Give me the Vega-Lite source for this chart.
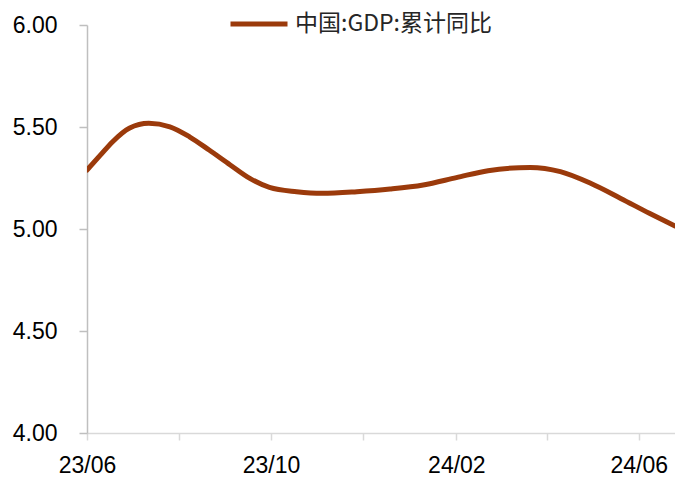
{
  "$schema": "https://vega.github.io/schema/vega-lite/v6.json",
  "width": 588,
  "height": 408,
  "autosize": {"type": "none"},
  "padding": {"left": 87, "top": 25, "right": 0, "bottom": 48},
  "background": "white",
  "config": {"view": {"stroke": null}, "font": "Liberation Sans"},
  "data": {"values": [
    {"date": "2023-06-01T00:00:00", "value": 5.289, "series": "中国:GDP:累计同比"},
    {"date": "2023-06-10T00:00:00", "value": 5.363, "series": "中国:GDP:累计同比"},
    {"date": "2023-06-18T00:00:00", "value": 5.428, "series": "中国:GDP:累计同比"},
    {"date": "2023-06-29T00:00:00", "value": 5.494, "series": "中国:GDP:累计同比"},
    {"date": "2023-07-12T00:00:00", "value": 5.518, "series": "中国:GDP:累计同比"},
    {"date": "2023-07-26T00:00:00", "value": 5.501, "series": "中国:GDP:累计同比"},
    {"date": "2023-08-08T00:00:00", "value": 5.452, "series": "中国:GDP:累计同比"},
    {"date": "2023-08-21T00:00:00", "value": 5.387, "series": "中国:GDP:累计同比"},
    {"date": "2023-09-04T00:00:00", "value": 5.314, "series": "中国:GDP:累计同比"},
    {"date": "2023-09-17T00:00:00", "value": 5.248, "series": "中国:GDP:累计同比"},
    {"date": "2023-09-30T00:00:00", "value": 5.204, "series": "中国:GDP:累计同比"},
    {"date": "2023-10-18T00:00:00", "value": 5.183, "series": "中国:GDP:累计同比"},
    {"date": "2023-11-04T00:00:00", "value": 5.175, "series": "中国:GDP:累计同比"},
    {"date": "2023-11-27T00:00:00", "value": 5.183, "series": "中国:GDP:累计同比"},
    {"date": "2023-12-19T00:00:00", "value": 5.196, "series": "中国:GDP:累计同比"},
    {"date": "2024-01-10T00:00:00", "value": 5.216, "series": "中国:GDP:累计同比"},
    {"date": "2024-02-01T00:00:00", "value": 5.252, "series": "中国:GDP:累计同比"},
    {"date": "2024-02-22T00:00:00", "value": 5.286, "series": "中国:GDP:累计同比"},
    {"date": "2024-03-21T00:00:00", "value": 5.302, "series": "中国:GDP:累计同比"},
    {"date": "2024-04-10T00:00:00", "value": 5.281, "series": "中国:GDP:累计同比"},
    {"date": "2024-04-30T00:00:00", "value": 5.224, "series": "中国:GDP:累计同比"},
    {"date": "2024-05-20T00:00:00", "value": 5.150, "series": "中国:GDP:累计同比"},
    {"date": "2024-06-08T00:00:00", "value": 5.077, "series": "中国:GDP:累计同比"},
    {"date": "2024-06-25T00:00:00", "value": 5.015, "series": "中国:GDP:累计同比"}
  ]},
  "mark": {"type": "line", "interpolate": "monotone", "strokeWidth": 5, "strokeCap": "round", "clip": true},
  "encoding": {
    "x": {
      "field": "date", "type": "temporal",
      "scale": {"domain": [{"year": 2023, "month": 6, "date": 1}, {"year": 2024, "month": 6, "date": 25}]},
      "axis": {
        "title": null,
        "values": [
          {"year": 2023, "month": 6, "date": 1}, {"year": 2023, "month": 8, "date": 1},
          {"year": 2023, "month": 10, "date": 1}, {"year": 2023, "month": 12, "date": 1},
          {"year": 2024, "month": 2, "date": 1}, {"year": 2024, "month": 4, "date": 1},
          {"year": 2024, "month": 6, "date": 1}
        ],
        "format": "%y/%m",
        "labelExpr": "(month(datum.value) % 4 == 1) ? timeFormat(datum.value, '%y/%m') : ''",
        "labelOverlap": false,
        "labelFlush": false,
        "labelFontSize": 23,
        "labelColor": "#000000",
        "labelPadding": 14,
        "domainColor": "#d9d9d9",
        "domainWidth": 1.5,
        "tickColor": "#d9d9d9",
        "tickWidth": 1.5,
        "tickSize": 7,
        "grid": false
      }
    },
    "y": {
      "field": "value", "type": "quantitative",
      "scale": {"domain": [4, 6], "nice": false, "zero": false},
      "axis": {
        "title": null,
        "values": [4, 4.5, 5, 5.5, 6],
        "format": ".2f",
        "labelFontSize": 23,
        "labelColor": "#000000",
        "labelPadding": 22,
        "domainColor": "#bfbfbf",
        "domainWidth": 1.5,
        "tickColor": "#bfbfbf",
        "tickWidth": 1.5,
        "tickSize": 8,
        "grid": false
      }
    },
    "color": {
      "field": "series", "type": "nominal",
      "scale": {"range": ["#9B3A0B"]},
      "legend": {
        "title": null,
        "orient": "none",
        "legendX": 141,
        "legendY": -32,
        "symbolType": "stroke",
        "symbolSize": 3249,
        "symbolStrokeWidth": 5,
        "labelFont": "Noto Sans CJK SC",
        "labelFontSize": 23,
        "labelColor": "#262626",
        "labelOffset": 5,
        "labelLimit": 400
      }
    }
  }
}
